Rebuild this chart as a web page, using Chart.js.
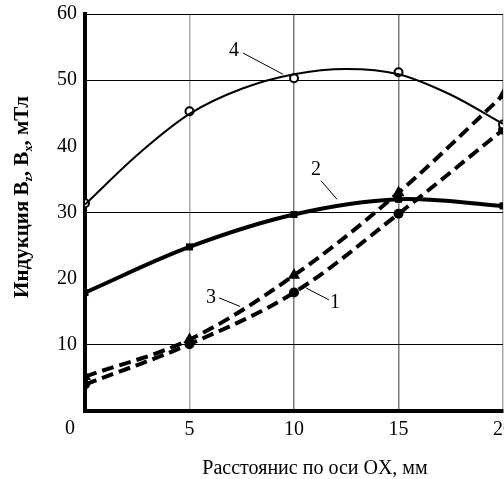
<!DOCTYPE html>
<html>
<head>
<meta charset="utf-8">
<script src="https://cdn.jsdelivr.net/npm/chart.js@4/dist/chart.umd.min.js"></script>
<style>
  body { margin: 0; overflow: hidden; background: #fff; }
  #wrap { width: 510px; height: 479px; }
</style>
</head>
<body>
<div id="wrap"><canvas id="cv" width="510" height="479"></canvas></div>
<script>
// distance along OX, mm
const xs = [0, 5, 10, 15, 20]
// measured points
const curve1 = [4.0, 10.1, 17.9, 29.8, 42.5]
const curve2 = [17.9, 24.8, 29.7, 32.0, 31.0]
const curve3 = [5.2, 10.8, 20.5, 33.0, 47.7]
const curve4 = [31.4, 45.3, 50.3, 51.2, 43.3]
// fitted line of curve 4
const fitX4 = [0, 2.5, 5, 7.5, 10, 12.5, 15, 17.5, 20]
const fitY4 = [31.2, 38.7, 44.9, 48.7, 50.9, 51.7, 50.9, 47.8, 43.4]
const yTicks = [10, 20, 30, 40, 50, 60]
const yLines = [10, 30, 50, 60]

const pts = (x, y) => x.map((v, i) => ({ x: v, y: y[i] }))
const serif = 'Liberation Serif'

// curve numbers with leader lines (data coords)
const callouts = [
	{ text: '4', at: [7.13, 54.4], from: [7.56, 54.1], to: [9.47, 50.9] },
	{ text: '2', at: [11.05, 36.4], from: [11.29, 34.8], to: [12.06, 32.0] },
	{ text: '3', at: [6.03, 17.1], from: [6.41, 17.1], to: [7.42, 15.8] },
	{ text: '1', at: [11.96, 16.4], from: [11.67, 16.8], to: [10.57, 18.6] }
]

const extras = {
	id: 'extras',
	afterDraw(chart) {
		const c = chart.ctx
		const sx = chart.scales.x
		const sy = chart.scales.y
		c.save()
		c.fillStyle = '#000'
		c.strokeStyle = '#000'
		c.lineWidth = 1
		c.textAlign = 'center'
		c.textBaseline = 'middle'
		c.font = '20px "' + serif + '"'
		callouts.forEach((k) => {
			c.fillText(k.text, sx.getPixelForValue(k.at[0]), sy.getPixelForValue(k.at[1]))
			c.beginPath()
			c.moveTo(sx.getPixelForValue(k.from[0]), sy.getPixelForValue(k.from[1]))
			c.lineTo(sx.getPixelForValue(k.to[0]), sy.getPixelForValue(k.to[1]))
			c.stroke()
		})
		// zero label sits left of origin
		c.fillText('0', sx.getPixelForValue(0) - 15, sy.getPixelForValue(0) + 18)

		// x title
		c.font = '20px "' + serif + '"'
		c.fillText('Расстоянис по оси OX, мм', 315, 469)

		// y title with subscripts
		c.translate(21, 197)
		c.rotate(-Math.PI / 2)
		c.textAlign = 'left'
		c.textBaseline = 'alphabetic'
		const parts = [
			['Индукция B', 'bold 21px', 0],
			['z', 'bold 12px', 4],
			[', B', 'bold 21px', 0],
			['x', 'bold 12px', 4],
			[', мТл', 'bold 21px', 0]
		]
		let total = 0
		parts.forEach((p) => {
			c.font = p[1] + ' "' + serif + '"'
			total += c.measureText(p[0]).width
		})
		let px = -total / 2
		parts.forEach((p) => {
			c.font = p[1] + ' "' + serif + '"'
			c.fillText(p[0], px, 7 + p[2])
			px += c.measureText(p[0]).width
		})
		c.restore()
	}
}

new Chart(document.getElementById('cv'), {
	type: 'line',
	data: {
		datasets: [
			{
				data: pts(fitX4, fitY4),
				borderColor: '#000',
				borderWidth: 2,
				cubicInterpolationMode: 'monotone',
				pointRadius: 0
			},
			{
				data: pts(xs, curve4),
				showLine: false,
				pointRadius: 4,
				pointBorderWidth: 2,
				pointBorderColor: '#000',
				pointBackgroundColor: '#fff'
			},
			{
				data: pts(xs, curve2),
				borderColor: '#000',
				borderWidth: 4,
				tension: 0.35,
				pointStyle: 'rect',
				pointRadius: 5,
				pointBorderWidth: 0,
				pointBackgroundColor: '#000'
			},
			{
				data: pts(xs, curve3),
				borderColor: '#000',
				borderWidth: 4,
				borderDash: [12, 6],
				tension: 0.35,
				pointStyle: 'triangle',
				pointRadius: 7,
				pointBorderWidth: 0,
				pointBackgroundColor: '#000'
			},
			{
				data: pts(xs, curve1),
				borderColor: '#000',
				borderWidth: 4,
				borderDash: [12, 6],
				tension: 0.35,
				pointRadius: 5,
				pointBorderWidth: 0,
				pointBackgroundColor: '#000'
			}
		]
	},
	options: {
		responsive: false,
		animation: false,
		layout: { padding: { top: 14, right: 1 } },
		plugins: {
			legend: { display: false },
			tooltip: { enabled: false }
		},
		scales: {
			x: {
				type: 'linear',
				min: 0,
				max: 20,
				afterFit(s) {
					s.height = 68
					s.paddingLeft = 0
					s.paddingRight = 0
				},
				ticks: {
					stepSize: 5,
					padding: 7,
					color: '#000',
					font: { family: serif, size: 20 },
					callback: (v) => (v === 0 ? '' : v)
				},
				grid: {
					drawTicks: false,
					lineWidth: 1.5,
					color: (ctx) => {
						const v = ctx.tick ? ctx.tick.value : 0
						if (v === 10 || v === 15) return '#7a7a7a'
						if (v === 5 || v === 20) return '#aaaaaa'
						return 'rgba(0,0,0,0)'
					}
				},
				border: { color: '#000', width: 4 }
			},
			y: {
				min: 0,
				max: 60,
				afterFit(s) {
					s.width = 85
					s.paddingTop = 0
					s.paddingBottom = 0
				},
				afterBuildTicks(s) { s.ticks = [0].concat(yTicks).map((v) => ({ value: v })) },
				ticks: {
					padding: 8,
					color: '#000',
					font: { family: serif, size: 20 },
					callback: (v) => (v === 0 ? '' : v)
				},
				grid: {
					drawTicks: false,
					lineWidth: 1,
					color: (ctx) => (ctx.tick && yLines.includes(ctx.tick.value) ? '#000' : 'rgba(0,0,0,0)')
				},
				border: { color: '#000', width: 4 }
			}
		}
	},
	plugins: [extras]
})
</script>
</body>
</html>
